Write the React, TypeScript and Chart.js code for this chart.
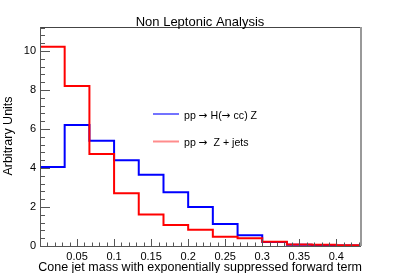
import React, { useEffect, useRef } from "react";
import { Chart, registerables } from "chart.js";

Chart.register(...registerables);

const binEdges = [0, 0.0333, 0.0667, 0.1, 0.1333, 0.1667, 0.2, 0.2333, 0.2667, 0.3, 0.3333, 0.3667, 0.4, 0.4333];
const hccValues = [4.05, 6.2, 5.4, 4.4, 3.65, 2.75, 2.0, 1.13, 0.55, 0.2, 0.06, 0.03, 0.02];
const zjetsValues = [10.22, 8.2, 4.72, 2.7, 1.62, 1.08, 0.83, 0.47, 0.4, 0.22, 0.08, 0.06, 0.04];
const xTicks = [0.05, 0.1, 0.15, 0.2, 0.25, 0.3, 0.35, 0.4];
const yTicks = [0, 2, 4, 6, 8, 10];

const titleText = "Non Leptonic Analysis";
const xTitle = "Cone jet mass with exponentially suppressed forward term";
const yTitle = "Arbitrary Units";
const legendLabels = ["pp \u2192 H(\u2192 cc) Z", "pp \u2192  Z + jets"];

const FONT = '"Liberation Sans", Arial, Helvetica, sans-serif';
const SYMFONT = '"DejaVu Sans", sans-serif';

function toSteps(values: number[]) {
  const pts = values.map((v, i) => ({ x: binEdges[i], y: v }));
  pts.push({ x: binEdges[binEdges.length - 1], y: values[values.length - 1] });
  return pts;
}

function drawMixed(ctx: CanvasRenderingContext2D, text: string, x: number, y: number, size: number) {
  const parts = text.split("\u2192");
  let cx = x;
  parts.forEach((p, i) => {
    if (i > 0) {
      ctx.font = `${size}px ${SYMFONT}`;
      ctx.fillText("\u2192", cx, y);
      cx += ctx.measureText("\u2192").width;
    }
    ctx.font = `${size}px ${FONT}`;
    ctx.fillText(p, cx, y);
    cx += ctx.measureText(p).width;
  });
}

const rootStyle = {
  id: "rootStyle",
  afterDraw(chart: any) {
    const ctx = chart.ctx;
    const { left, right, top, bottom } = chart.chartArea;
    const xs = chart.scales.x;
    const ys = chart.scales.y;
    ctx.save();
    // frame
    ctx.lineWidth = 1;
    ctx.strokeStyle = "#444";
    ctx.beginPath();
    ctx.moveTo(left, top + 0.5);
    ctx.lineTo(right, top + 0.5);
    ctx.stroke();
    ctx.strokeStyle = "#999";
    ctx.lineWidth = 2;
    ctx.beginPath();
    ctx.moveTo(right, top);
    ctx.lineTo(right, bottom);
    ctx.stroke();
    ctx.lineWidth = 1;
    ctx.strokeStyle = "#555";
    ctx.beginPath();
    ctx.moveTo(left + 0.5, top);
    ctx.lineTo(left + 0.5, bottom + 0.5);
    ctx.lineTo(right, bottom + 0.5);
    ctx.stroke();
    // y ticks
    ctx.beginPath();
    for (let v = 0; v <= ys.max + 1e-9; v += 0.4) {
      const y = Math.round(ys.getPixelForValue(v)) + 0.5;
      const major = Math.abs(v / 2 - Math.round(v / 2)) < 1e-6;
      ctx.moveTo(left, y);
      ctx.lineTo(left + (major ? 10 : 5), y);
    }
    // x ticks
    for (let i = 1; i * 0.01 <= xs.max + 1e-9; i++) {
      const x = Math.round(xs.getPixelForValue(i * 0.01)) + 0.5;
      const major = i % 5 === 0;
      ctx.moveTo(x, bottom);
      ctx.lineTo(x, bottom - (major ? 7 : 3.5));
    }
    ctx.stroke();
    // title
    ctx.fillStyle = "#000";
    ctx.font = `13px ${FONT}`;
    ctx.textAlign = "center";
    ctx.textBaseline = "alphabetic";
    ctx.fillText(titleText, 200, 25.5);
    // axis titles
    ctx.font = `12.5px ${FONT}`;
    ctx.textAlign = "right";
    ctx.fillText(xTitle, 362, 271);
    ctx.save();
    ctx.translate(11.5, 136);
    ctx.rotate(-Math.PI / 2);
    ctx.textAlign = "center";
    ctx.fillText(yTitle, 0, 0);
    ctx.restore();
    // legend
    const colors = ["rgba(0,0,255,0.55)", "rgba(255,0,0,0.45)"];
    const ly = [113, 140.5];
    const ty = [118.5, 145.5];
    ctx.textAlign = "left";
    for (let i = 0; i < 2; i++) {
      ctx.fillStyle = colors[i];
      ctx.fillRect(153, ly[i], 26, 2);
      ctx.fillStyle = "#000";
      drawMixed(ctx, legendLabels[i], 184, ty[i], 10.6);
    }
    ctx.restore();
  },
};

export default function App() {
  const ref = useRef<HTMLCanvasElement | null>(null);
  useEffect(() => {
    if (!ref.current) return;
    const chart = new Chart(ref.current, {
      type: "line",
      data: {
        datasets: [
          {
            label: legendLabels[0],
            data: toSteps(hccValues),
            borderColor: "#0000ff",
            borderWidth: 2,
            pointRadius: 0,
            stepped: "before",
            fill: false,
            order: 2,
          },
          {
            label: legendLabels[1],
            data: toSteps(zjetsValues),
            borderColor: "#ff0000",
            borderWidth: 2,
            pointRadius: 0,
            stepped: "before",
            fill: false,
            order: 1,
          },
        ],
      },
      plugins: [rootStyle],
      options: {
        animation: false,
        responsive: false,
        devicePixelRatio: 1,
        layout: { padding: { top: 27, right: 40, left: 0, bottom: 0 } },
        plugins: {
          legend: { display: false },
          tooltip: { enabled: false },
          title: { display: false },
        },
        scales: {
          x: {
            type: "linear",
            min: 0,
            max: 0.4333,
            grid: { display: false, drawTicks: false },
            border: { display: false },
            afterFit: (s: any) => {
              s.height = 27;
            },
            afterBuildTicks: (s: any) => {
              s.ticks = xTicks.map((v) => ({ value: v }));
            },
            ticks: {
              autoSkip: false,
              maxRotation: 0,
              padding: 4,
              color: "#000",
              font: { family: FONT, size: 11 },
              callback: (v: any) => String(Number(Number(v).toFixed(2))),
            },
          },
          y: {
            type: "linear",
            min: 0,
            max: 11.23,
            grid: { display: false, drawTicks: false },
            border: { display: false },
            afterFit: (s: any) => {
              s.width = 40;
            },
            afterBuildTicks: (s: any) => {
              s.ticks = yTicks.map((v) => ({ value: v }));
            },
            ticks: {
              autoSkip: false,
              padding: 4,
              color: "#000",
              font: { family: FONT, size: 11 },
              callback: (v: any) => String(v),
            },
          },
        },
      },
    });
    return () => chart.destroy();
  }, []);
  return (
    <div style={{ position: "absolute", left: 0, top: 0, width: 401, height: 273, background: "#fff" }}>
      <canvas ref={ref} width={401} height={273} style={{ display: "block", width: 401, height: 273 }} />
    </div>
  );
}
